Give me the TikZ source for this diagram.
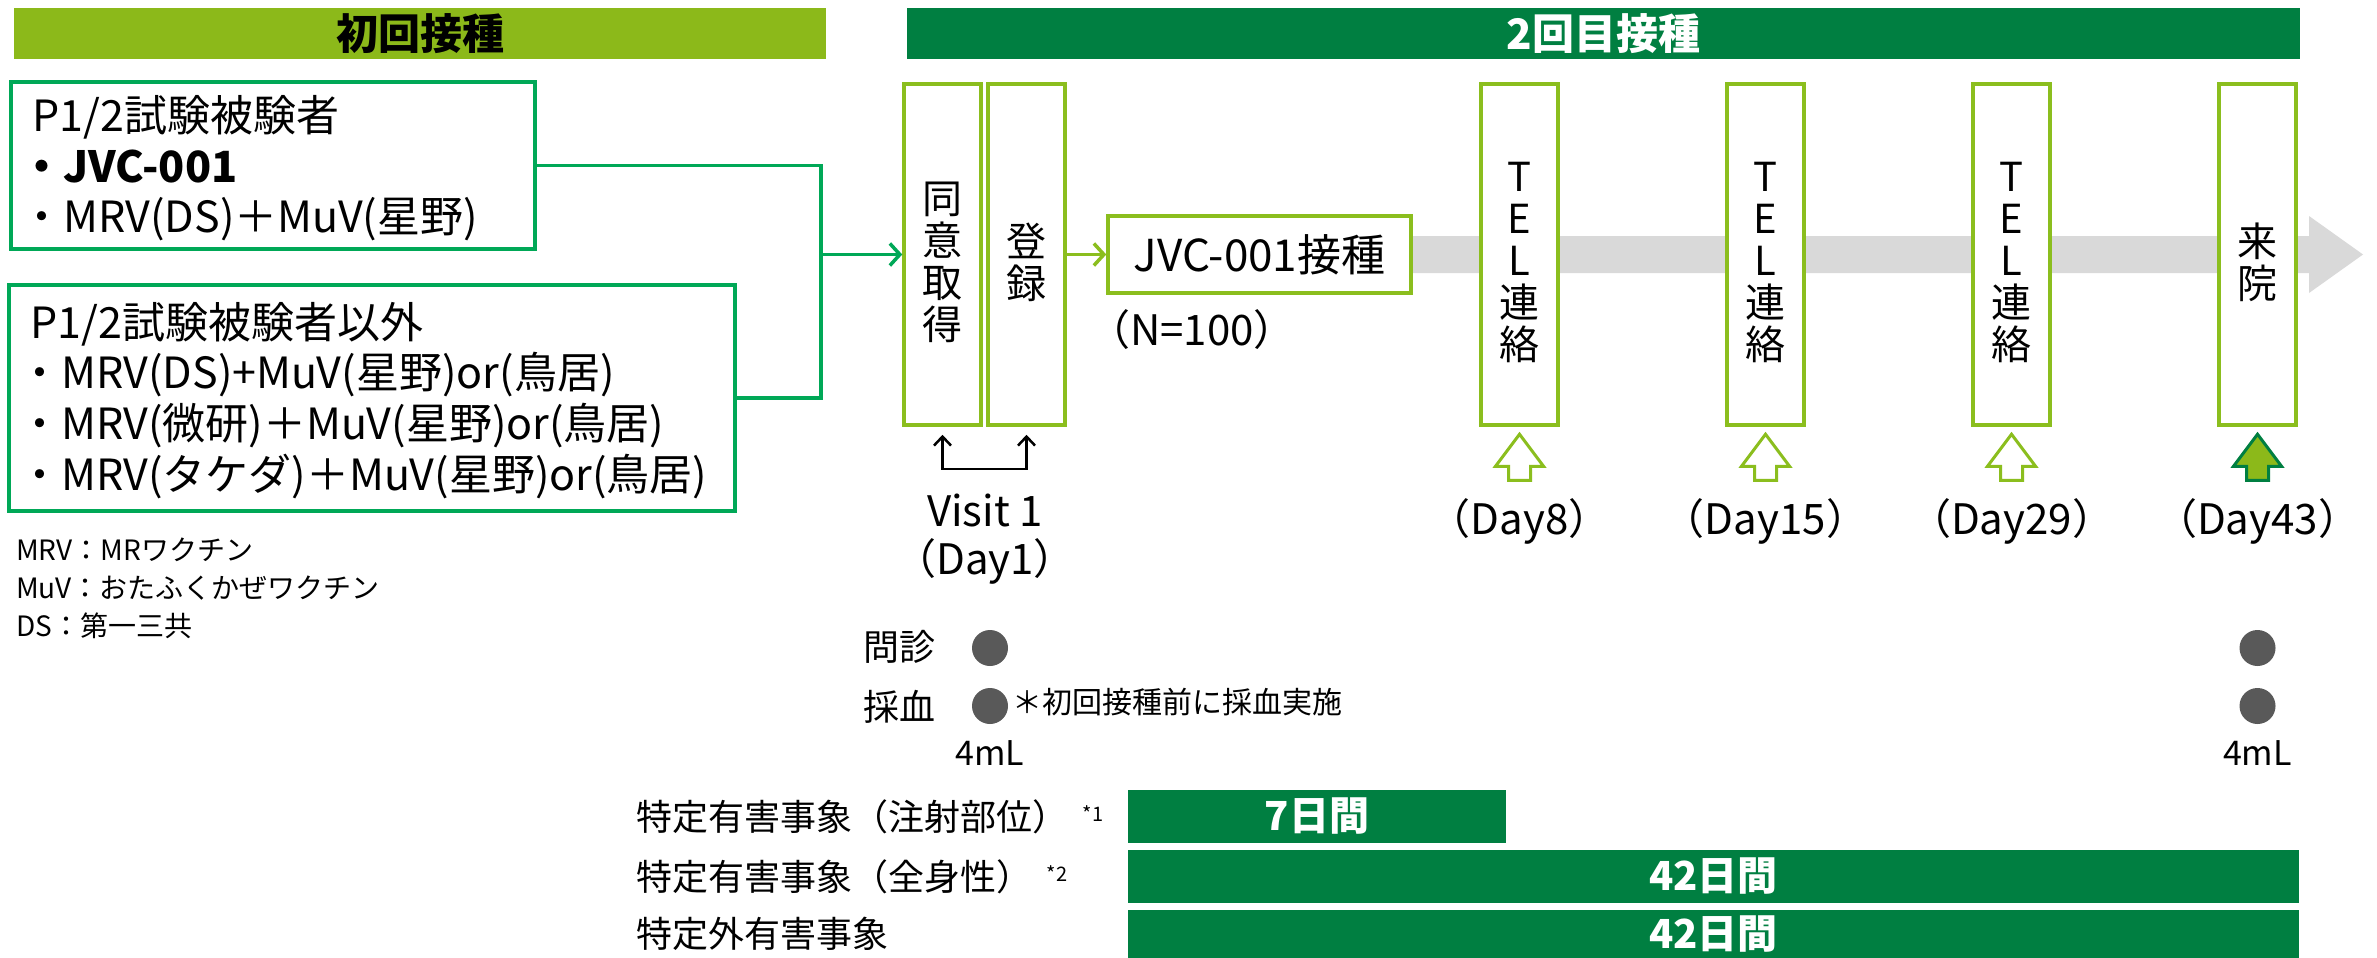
\documentclass[tikz,border=0pt]{standalone}
\usepackage{fontspec}
\setmainfont{Noto Sans CJK JP}
\usetikzlibrary{arrows.meta,calc}
\definecolor{ygreen}{HTML}{8CB91A}
\definecolor{ybord}{HTML}{8BBE1E}
\definecolor{dgreen}{HTML}{007F41}
\definecolor{lgreen}{HTML}{00A857}
\definecolor{bandgray}{HTML}{D9D9D9}
\definecolor{dotgray}{HTML}{595959}
\newcommand{\fsz}[2]{\fontsize{#1}{#2}\selectfont}
\begin{document}
\begin{tikzpicture}[x=1pt,y=-1pt,
  hdr/.style={minimum height=51pt, inner sep=0pt, font=\fsz{42}{46}\bfseries},
  lbox/.style={draw=lgreen, line width=3.5pt, inner sep=0pt},
  lt/.style={anchor=base west, inner sep=0pt, font=\fsz{43}{48}},
  legend/.style={anchor=base west, inner sep=0pt, font=\fsz{28}{30}},
  vbox/.style={draw=ybord, line width=3.5pt, fill=white, inner sep=0pt, minimum width=77pt, minimum height=341pt},
  vtext/.style={align=center, inner sep=0pt, font=\fsz{40}{42}},
  plain/.style={inner sep=0pt, font=\fsz{42}{46}},
  dot/.style={circle, fill=dotgray, minimum size=36pt, inner sep=0pt},
  small/.style={inner sep=0pt, font=\fsz{36}{40}},
  bar/.style={fill=dgreen, inner sep=0pt, text=white, font=\fsz{40}{44}\bfseries},
  gline/.style={draw=lgreen, line width=3.5pt},
  yline/.style={draw=ybord, line width=3.5pt},
  uparr/.pic={\path[pic actions] (0,0) -- (24,32) -- (11,32) -- (11,46) -- (-11,46) -- (-11,32) -- (-24,32) -- cycle;}
]
\fill[white] (0,0) rectangle (2377,958);
\useasboundingbox (0,0) rectangle (2377,958);

% headers
\node[hdr, fill=ygreen, minimum width=812pt] (h1) at (420,33.5) {初回接種};
\node[hdr, fill=dgreen, minimum width=1393pt, text=white] (h2) at (1603.5,33.5) {2回目接種};

% left boxes
\node[lbox, minimum width=524pt, minimum height=167pt] (b1) at (273,165.5) {};
\node[lbox, minimum width=726pt, minimum height=226pt] (b2) at (372,398) {};
\node[lt] (b1l1) at (32,131) {P1/2試験被験者};
\node[lt, font=\fsz{43}{48}\bfseries] (b1l2) at (20,182) {・JVC-001};
\node[lt] (b1l3) at (20,232) {・MRV(DS)＋MuV(星野)};
\node[lt] (b2l1) at (30,338) {P1/2試験被験者以外};
\node[lt] (b2l2) at (18,388) {・MRV(DS)+MuV(星野)or(鳥居)};
\node[lt] (b2l3) at (18,439) {・MRV(微研)＋MuV(星野)or(鳥居)};
\node[lt] (b2l4) at (18,490) {・MRV(タケダ)＋MuV(星野)or(鳥居)};

% legend
\node[legend] (lg1) at (16,560) {MRV：MRワクチン};
\node[legend] (lg2) at (16,598) {MuV：おたふくかぜワクチン};
\node[legend] (lg3) at (16,636) {DS：第一三共};

% gray timeline band
\fill[bandgray] (1411,236) -- (2309,236) -- (2309,216) -- (2363,254.5) -- (2309,293) -- (2309,273) -- (1411,273) -- cycle;

% process boxes
\node[vbox] (consent) at (942.5,254.5) {};
\node[vbox] (reg) at (1026.5,254.5) {};
\node[vbox, minimum width=303pt, minimum height=77pt] (jvc) at (1259.5,254.5) {};
\node[plain, font=\fsz{44}{48}] (jvct) at (jvc.center) {JVC-001接種};
\node[vbox] (tel1) at (1519.5,254.5) {};
\node[vbox] (tel2) at (1765.5,254.5) {};
\node[vbox] (tel3) at (2011.5,254.5) {};
\node[vbox] (visit) at (2257.5,254.5) {};

\node[vtext] (consentt) at ([yshift=-8pt]consent.center) {同\\意\\取\\得};
\node[vtext] (regt) at ([yshift=-8pt]reg.center) {登\\録};
\node[vtext] (tel1t) at ([yshift=-8pt]tel1.center) {T\\E\\L\\連\\絡};
\node[vtext] (tel2t) at ([yshift=-8pt]tel2.center) {T\\E\\L\\連\\絡};
\node[vtext] (tel3t) at ([yshift=-8pt]tel3.center) {T\\E\\L\\連\\絡};
\node[vtext] (visitt) at ([yshift=-8pt]visit.center) {来\\院};

% connectors
\coordinate (jn) at (821,254.5);
\draw[gline] (b1.east) -| (jn);
\draw[gline] (b2.east) -| (jn);
\draw[gline, -{Straight Barb[length=10pt,width=22pt]}] (jn) -- (consent.west);
\draw[yline, -{Straight Barb[length=10pt,width=22pt]}] (reg.east) -- (jvc.west);

% visit 1 bracket
\draw[black, line width=2.5pt, {Straight Barb[length=9pt,width=17pt]}-{Straight Barb[length=9pt,width=17pt]}]
  ([yshift=-8pt]consent.south) -- ++(0,34) -| ([yshift=-8pt]reg.south);
\node[plain] (v1) at (985,510) {Visit 1};
\node[plain] (v1d) at (985,561) {（Day1）};
\node[plain] (n100) at (1192,330) {（N=100）};

% up arrows
\pic[draw=ybord, fill=white, line width=3pt] at ([yshift=-7.5pt]tel1.south) {uparr};
\pic[draw=ybord, fill=white, line width=3pt] at ([yshift=-7.5pt]tel2.south) {uparr};
\pic[draw=ybord, fill=white, line width=3pt] at ([yshift=-7.5pt]tel3.south) {uparr};
\pic[draw=dgreen, fill=ygreen, line width=3pt] at ([yshift=-7.5pt]visit.south) {uparr};
\node[plain] (d8) at (1519.5,521) {（Day8）};
\node[plain] (d15) at (1765.5,521) {（Day15）};
\node[plain] (d29) at (2011.5,521) {（Day29）};
\node[plain] (d43) at (2257.5,521) {（Day43）};

% examination rows
\node[small, anchor=west] (q) at (863,647) {問診};
\node[small, anchor=west] (blood) at (863,707) {採血};
\node[dot] (q1) at (990,648) {};
\node[dot] (bl1) at (990,706) {};
\node[dot] (q2) at (2257.5,648) {};
\node[dot] (bl2) at (2257.5,706) {};
\node[inner sep=0pt, anchor=west, font=\fsz{30}{32}] (note) at (1012,702) {＊初回接種前に採血実施};
\node[inner sep=0pt, font=\fsz{34}{36}] (ml1) at (990,753) {4mL};
\node[inner sep=0pt, font=\fsz{34}{36}] (ml2) at (2257.5,753) {4mL};

% adverse event rows
\node[small, anchor=west] (r1) at (636,816.5) {特定有害事象（注射部位）};
\node[inner sep=0pt, font=\fsz{20}{22}] (r1n) at (1093,814) {*1};
\node[small, anchor=west] (r2) at (636,876.5) {特定有害事象（全身性）};
\node[inner sep=0pt, font=\fsz{20}{22}] (r2n) at (1057,874) {*2};
\node[small, anchor=west] (r3) at (636,934) {特定外有害事象};
\node[bar, minimum width=378pt, minimum height=53pt] (bar1) at (1317,816.5) {7日間};
\node[bar, minimum width=1171pt, minimum height=53pt] (bar2) at (1713.5,876.5) {42日間};
\node[bar, minimum width=1171pt, minimum height=48pt] (bar3) at (1713.5,934) {42日間};
\end{tikzpicture}
\end{document}
